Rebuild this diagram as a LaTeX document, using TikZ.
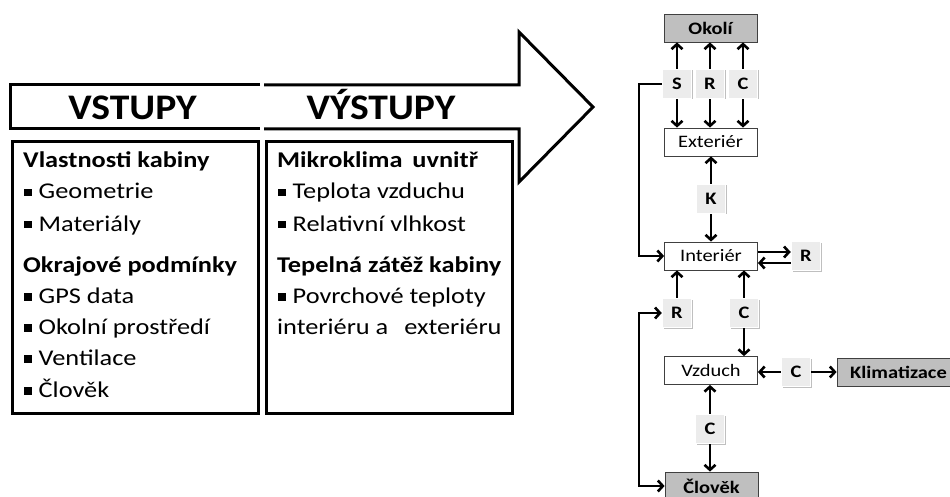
\documentclass[tikz,border=0pt]{standalone}
\usepackage{fontspec}
\setmainfont{Carlito}[FakeStretch=1.17]
\newfontfamily\ttlfont{Carlito}[FakeStretch=1.1]
\usetikzlibrary{arrows.meta,shadows}
\newcommand\mybul{\rule[2.5pt]{7.5pt}{7.5pt}\hspace{7pt}}
\begin{document}
\begin{tikzpicture}[x=1pt,y=-1pt,
  outl/.style={line width=3pt, line join=miter},
  hd/.style={anchor=base west, inner sep=0pt, font=\fontsize{22.5}{26}\selectfont\bfseries},
  itm/.style={anchor=base west, inner sep=0pt, font=\fontsize{22.5}{26}\selectfont},
  ttl/.style={anchor=base, inner sep=0pt, font=\ttlfont\fontsize{36}{40}\selectfont\bfseries},
  dbox/.style={draw=black!75, line width=0.8pt, fill=white, minimum width=93pt, minimum height=28pt, inner sep=0pt, font=\fontsize{17.5}{20}\selectfont},
  gbox/.style={dbox, fill=gray!50, font=\fontsize{17.5}{20}\selectfont\bfseries},
  lab/.style={fill=gray!15, draw=white, line width=1.5pt, minimum width=29pt, minimum height=29pt, inner sep=0pt, font=\fontsize{17.5}{20}\selectfont\bfseries, drop shadow={shadow xshift=1pt, shadow yshift=-1pt, opacity=0.25, fill=black}},
  arr/.style={line width=2.6pt, -{Straight Barb[length=5pt,width=11pt]}},
  arrb/.style={line width=2.6pt, {Straight Barb[length=5pt,width=11pt]}-{Straight Barb[length=5pt,width=11pt]}}
]
\useasboundingbox (0,0) rectangle (950,497);

% big arrow outline
\draw[outl] (260,85) -- (10,85) -- (10,129) -- (260,129);
\draw[outl] (264,85) -- (519,85) -- (519,32) -- (593,107) -- (519,182) -- (519,129) -- (264,129);
\node[ttl] (vst) at (132.5,120) {VSTUPY};
\node[ttl] (vyst) at (381,120) {VÝSTUPY};

% left boxes
\draw[outl] (12,142) rectangle (258,413);
\draw[outl] (266,142) rectangle (512,413);

\node[hd]  (l1) at (23,168) {Vlastnosti kabiny};
\node[itm] (l2) at (24,199) {\mybul Geometrie};
\node[itm] (l3) at (24,231) {\mybul Materiály};
\node[hd]  (l4) at (23,272) {Okrajové podmínky};
\node[itm] (l5) at (24,303) {\mybul GPS data};
\node[itm] (l6) at (24,334) {\mybul Okolní prostředí};
\node[itm] (l7) at (24,365) {\mybul Ventilace};
\node[itm] (l8) at (24,397) {\mybul Člověk};

\node[hd]  (r1) at (277,168) {Mikroklima\hspace{10pt}uvnitř};
\node[itm] (r2) at (278,199) {\mybul Teplota vzduchu};
\node[itm] (r3) at (278,231) {\mybul Relativní vlhkost};
\node[hd]  (r4) at (277,272) {Tepelná zátěž kabiny};
\node[itm] (r5) at (278,303) {\mybul Povrchové teploty};
\node[itm] (r6) at (277,334) {interiéru a\hspace{16pt}exteriéru};

% right diagram
\node[gbox] (okoli) at (710.5,28) {Okolí};
\node[dbox] (ext) at (710.5,142) {Exteriér};
\node[dbox] (int) at (711,256) {Interiér};
\node[dbox] (vz) at (711,370.5) {Vzduch};
\node[gbox, minimum height=36pt] (clo) at (711.5,490) {\raisebox{7pt}{Člověk}};
\node[gbox, minimum width=123pt] (klim) at (898.5,372) {Klimatizace};

\node[lab] (S) at (677,84) {S};
\node[lab] (R) at (710,84) {R};
\node[lab] (C) at (743,84) {C};
\node[lab] (K) at (711,199) {K};
\node[lab] (Rr) at (806,256) {R};
\node[lab] (Rl) at (677,313) {R};
\node[lab] (Cl) at (744,313) {C};
\node[lab] (Cr) at (796,372) {C};
\node[lab] (Cb) at (710,429) {C};

\coordinate (L1) at (639,84);
\coordinate (L2) at (639,486);

\foreach \n in {S,R,C}{
  \draw[arr] (\n.north) -- (\n.north |- okoli.south);
  \draw[arr] (\n.south) -- (\n.south |- ext.north);
}
\draw[arr] (K.north) -- (K.north |- ext.south);
\draw[arr] (K.south) -- (K.south |- int.north);
\draw[arr] ([yshift=4pt]int.east) -- ([yshift=4pt]Rr.west);
\draw[arr] ([yshift=-7pt]Rr.west) -- ([yshift=-7pt]int.east);
\draw[arr] (Rl.north) -- (Rl.north |- int.south);
\draw[arr] (Cl.north) -- (Cl.north |- int.south);
\draw[arr] (Cl.south) -- (Cl.south |- vz.north);
\draw[arr] (Cr.west) -- (Cr.west -| vz.east);
\draw[arr] (Cr.east) -- (Cr.east -| klim.west);
\draw[arr] (Cb.north) -- (Cb.north |- vz.south);
\draw[arr] (Cb.south) -- (Cb.south |- clo.north);
\draw[arr] (S.west) -- (L1) |- (int.west);
\draw[arrb] (Rl.west) -| (L2) -- (L2 -| clo.west);
\end{tikzpicture}
\end{document}
